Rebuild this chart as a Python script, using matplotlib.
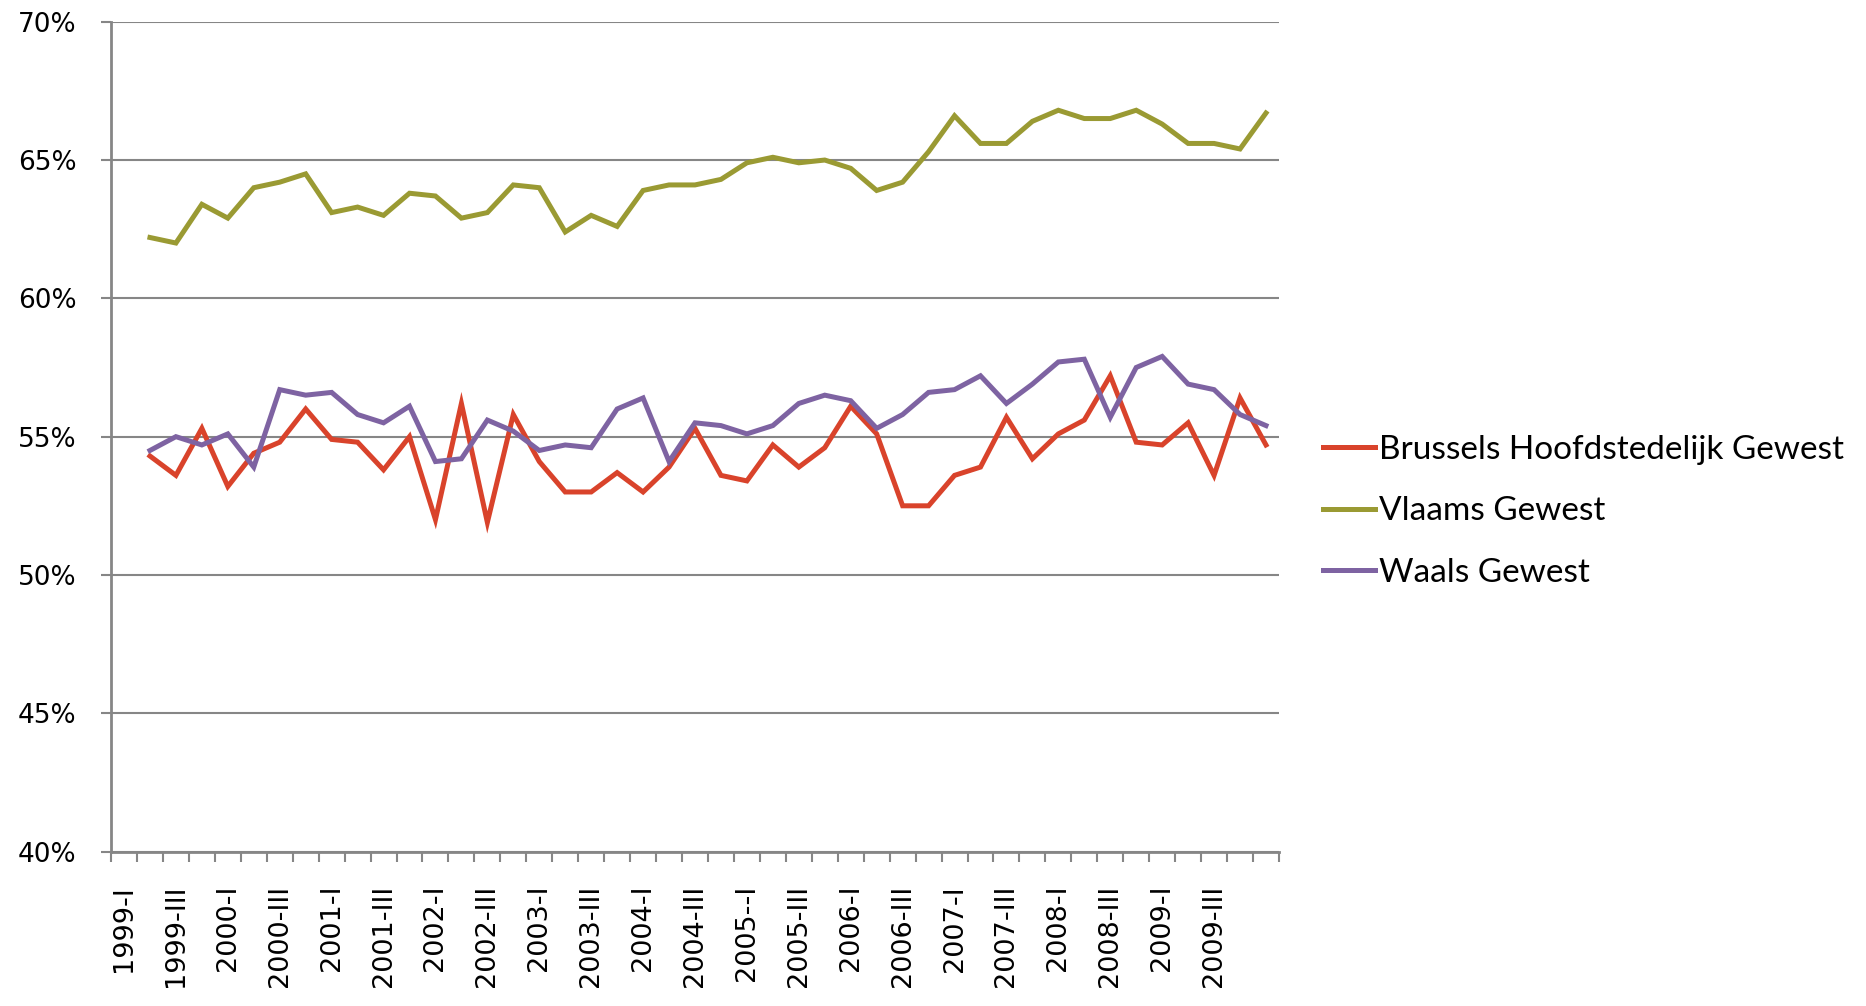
import numpy as np
import matplotlib
matplotlib.use("Agg")
import matplotlib.pyplot as plt

# quarterly employment rates per region (%), 1999-II .. 2010-I
brussels = [54.3, 53.6, 55.3, 53.2, 54.4, 54.8, 56.0, 54.9, 54.8, 53.8,
            55.0, 52.0, 56.2, 51.9, 55.8, 54.1, 53.0, 53.0, 53.7, 53.0,
            53.9, 55.3, 53.6, 53.4, 54.7, 53.9, 54.6, 56.1, 55.1, 52.5,
            52.5, 53.6, 53.9, 55.7, 54.2, 55.1, 55.6, 57.2, 54.8, 54.7,
            55.5, 53.6, 56.4, 54.7]
vlaams = [62.2, 62.0, 63.4, 62.9, 64.0, 64.2, 64.5, 63.1, 63.3, 63.0,
          63.8, 63.7, 62.9, 63.1, 64.1, 64.0, 62.4, 63.0, 62.6, 63.9,
          64.1, 64.1, 64.3, 64.9, 65.1, 64.9, 65.0, 64.7, 63.9, 64.2,
          65.3, 66.6, 65.6, 65.6, 66.4, 66.8, 66.5, 66.5, 66.8, 66.3,
          65.6, 65.6, 65.4, 66.7]
waals = [54.5, 55.0, 54.7, 55.1, 53.9, 56.7, 56.5, 56.6, 55.8, 55.5,
         56.1, 54.1, 54.2, 55.6, 55.2, 54.5, 54.7, 54.6, 56.0, 56.4,
         54.1, 55.5, 55.4, 55.1, 55.4, 56.2, 56.5, 56.3, 55.3, 55.8,
         56.6, 56.7, 57.2, 56.2, 56.9, 57.7, 57.8, 55.7, 57.5, 57.9,
         56.9, 56.7, 55.8, 55.4]

# category axis: 45 slots, labelled every second one
n_cat = 45
tick_labels = ["1999-I", "1999-III", "2000-I", "2000-III", "2001-I", "2001-III",
               "2002-I", "2002-III", "2003-I", "2003-III", "2004-I", "2004-III",
               "2005--I", "2005-III", "2006-I", "2006-III", "2007-I", "2007-III",
               "2008-I", "2008-III", "2009-I", "2009-III"]

series = [("Brussels Hoofdstedelijk Gewest", brussels, "#D9432B"),
          ("Vlaams Gewest", vlaams, "#9A9A33"),
          ("Waals Gewest", waals, "#7E63A2")]

fig = plt.figure(figsize=(18.66, 10.06), dpi=100)
ax = fig.add_axes([0.0595, 0.1535, 0.6259, 0.8249])

x = np.arange(1, n_cat) + 0.5
for name, vals, col in series:
    ax.plot(x, vals, color=col, lw=3.6, label=name, solid_joinstyle="miter")

grey = "#868686"
ax.set_xlim(0, n_cat)
ax.set_ylim(40, 70)
ax.set_yticks(np.arange(40, 71, 5))
ax.set_yticklabels([f"{v}%" for v in range(40, 71, 5)],
                   fontsize=19, family="DejaVu Sans")
ax.yaxis.grid(True, color=grey, lw=1.5)
ax.set_axisbelow(True)

ax.set_xticks(np.arange(0, n_cat + 1))
ax.set_xticklabels([])
ax.set_xticks(np.arange(len(tick_labels)) * 2 + 0.5, minor=True)
ax.set_xticklabels(tick_labels, minor=True, rotation=90, fontsize=19.5,
                   family="DejaVu Sans", va="top", ha="center")
ax.tick_params(axis="x", which="major", length=7, width=1.5, color=grey,
               direction="out")
ax.tick_params(axis="x", which="minor", length=0, pad=24)
ax.tick_params(axis="y", length=7, width=1.5, color=grey, pad=18)

for s in ["top", "right"]:
    ax.spines[s].set_visible(False)
for s in ["left", "bottom"]:
    ax.spines[s].set_color(grey)
    ax.spines[s].set_linewidth(2)

ax.legend(loc="center left", bbox_to_anchor=(1.012, 0.41), frameon=False,
          prop={"family": "Lato", "size": 24}, handlelength=1.55,
          handletextpad=0.12, labelspacing=0.95)

fig.savefig("out.png", dpi=100)
